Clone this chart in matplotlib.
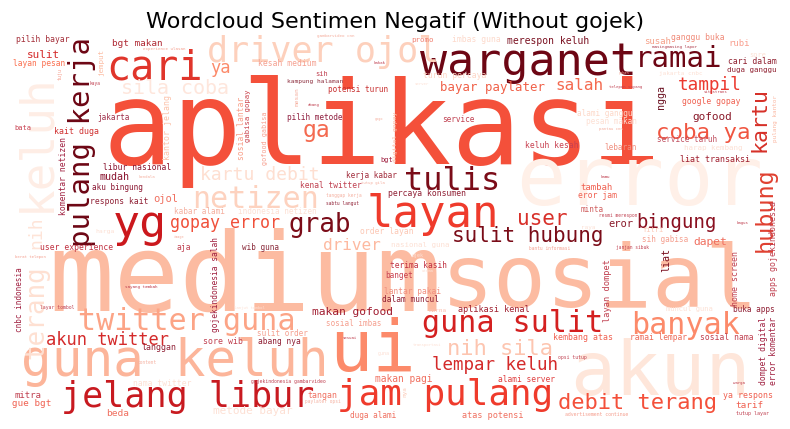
import matplotlib
matplotlib.use("Agg")
import matplotlib.pyplot as plt

# ---- word cloud content -------------------------------------------------
words = [
    "aplikasi", "medium", "sosial", "error", "akun", "keluh", "warganet", "yg", "layan", "ui",
    "jam pulang", "jelang libur", "guna keluh", "twitter guna", "akun twitter", "guna sulit", "banyak", "nih sila", "lempar keluh", "debit terang",
    "pulang kerja", "cari", "driver ojol", "ramai", "tulis", "grab", "kartu debit", "netizen", "gopay error", "ga",
    "sila coba", "sulit hubung", "user", "bingung", "hubung", "kartu", "coba ya", "tampil", "salah", "driver",
    "terang", "nih", "ya", "bayar paylater", "makan gofood", "gofood", "dapet", "sulit", "ojol", "eror",
    "mudah", "ngga", "liat", "merespon keluh", "makan pagi", "bgt makan", "pilih bayar", "layan pesan", "jemput", "experience ulasan",
    "tuju", "kaya", "jakarta", "kantor jelang", "sosial lantar", "gabisa gopay", "gofood gabisa", "bata", "kait duga", "komentar netizen",
    "libur nasional", "gambarvideo cnn", "promo", "imbas guna", "kesah medium", "sih", "kampung halaman", "turun percaya", "mesan", "potensi turun",
    "abang", "pilih metode", "digital gopay", "service", "bgt", "susah", "ganggu buka", "rubi", "masingmasing lapor", "sore",
    "cari dalam", "duga ganggu", "jakarta cnbc", "telepon sayang", "pulang kantor", "google gopay", "alami ganggu", "pesan makan", "keluh kesah", "lebaran",
    "service taruh", "harap kembang", "liat transaksi", "tambah", "eror jam", "kamu", "minta", "resmi merespon", "raya", "fitri",
    "sih gabisa", "janjan sibuk", "bantu informasi", "bagus", "aku bingung", "respons kait", "kendala", "kabar alami", "indonesia netizen", "harga",
    "user experience", "aja", "image", "wib guna", "gojekindonesia salah", "berat telepon", "sayang tambah", "kerja kabar", "kenal twitter", "tutup gila",
    "percaya konsumen", "tanggap kerja", "sabtu langut", "order layan", "nasional guna", "ojek", "terima kasih", "banget", "lantar pakai", "dalam muncul",
    "marna", "aplikasi kenal", "sosial imbas", "sulit order", "abang nya", "sore wib", "langgan", "content", "alami server", "tangan",
    "nya", "duga alami", "atas potensi", "cnbc indonesia", "layar tombol", "lanjut tombol", "mitra", "gue bgt", "beda", "nama twitter",
    "metode bayar", "gojekindonesia gambarvideo", "paylater opsi", "layan dompet", "home screen", "apps gojekindonesia", "muncul guna", "buka apps", "kembang atas", "ramai lempar",
    "sosial nama", "dompet digital", "error komentar", "opsi tutup", "warga", "ya respons", "tarif", "tutup layar", "advertisement continue", "sesuai",
    "transportasi", "guna", "server", "kakak", "pahan", "situstrans", "pantau cnn", "gogo", "utama",
]

# relative word size (font em height in image pixels)
sizes = [
    116, 109, 88, 82, 75, 46, 45, 45, 44, 72,
    36, 35, 51, 30, 17, 30, 30, 22, 17.5, 22,
    29, 40, 35, 29, 32, 26, 18, 30, 16.6, 23,
    20, 21, 21, 19, 23.5, 21.6, 22.5, 17.7, 16, 16,
    26, 18, 17, 12.4, 11.2, 11, 11.2, 11, 10.4, 10.4,
    10, 10, 10, 9.8, 9.6, 9.4, 8, 7.9, 7.5, 4.1,
    5, 4.5, 7.8, 8.3, 8, 7.3, 6.8, 7, 8.3, 8.1,
    8, 4.2, 7.5, 8, 8, 7, 6.2, 8.2, 6.3, 7.7,
    4, 7.8, 6.5, 7.8, 7, 9, 8, 9, 4.2, 7,
    8.2, 7.5, 6, 4, 6, 8, 7.8, 7.8, 8, 7.8,
    7.7, 7.5, 8.4, 9, 8, 4, 7.6, 4.5, 6, 7,
    7.7, 4.6, 4.5, 4, 7.7, 8, 4, 7.8, 7.8, 6.5,
    8, 8, 3.5, 7.7, 7.9, 4, 4.3, 7.8, 7.9, 4,
    8.2, 4.5, 4.5, 8, 7.5, 5, 7.9, 7.8, 7.9, 7.9,
    6, 8.5, 7.6, 7.7, 7.9, 8.3, 8.3, 4.5, 7.9, 8.3,
    6, 7.8, 8.5, 7.7, 4.8, 4, 9, 9.3, 9.5, 8,
    11, 4.7, 4.5, 8.6, 8.3, 8.3, 7.2, 7.8, 8.3, 7.9,
    8, 8, 8, 4.7, 4, 8.3, 9.3, 5, 4.9, 4,
    4, 5, 4, 4, 3.5, 4, 4, 3.5, 4,
]

colors = [
    "#f4503a", "#fcbba1", "#fcbba1", "#fff0e8", "#fee6da", "#feede5", "#6d0614", "#cb181d", "#ef3b2c", "#fc8a6a",
    "#ef3b2c", "#c81a20", "#fcb59a", "#fca486", "#d42a2a", "#d42020", "#fc8a6a", "#fdc5b0", "#d42a2a", "#f4503a",
    "#6d0614", "#e0352b", "#fdd0bc", "#6d0614", "#7b0c18", "#7b0c18", "#fedfd1", "#fdd2bf", "#f0503a", "#f46a50",
    "#fee6dc", "#7a0c18", "#d8302a", "#8a1020", "#e04030", "#d63028", "#f05540", "#ec3a30", "#f46a50", "#fdb9a0",
    "#fee0d2", "#fee4d8", "#fc8a6a", "#f06048", "#a01c30", "#8a1a2a", "#f07060", "#d42a2a", "#f07060", "#8a1a2a",
    "#8a1530", "#6a1020", "#7a1020", "#7a1020", "#f07060", "#b02a35", "#a5303a", "#fb7050", "#fcbba1", "#f5a090",
    "#f5a090", "#c04050", "#a0304a", "#fcc2aa", "#f9a08a", "#c9404a", "#f7a090", "#c84050", "#d03030", "#a02040",
    "#8a1530", "#f5b0a0", "#f08070", "#fdd9cb", "#f5a090", "#c04050", "#8a2a3a", "#fdd5c5", "#f5b0a0", "#c83030",
    "#c04050", "#902040", "#fbb8a2", "#c04050", "#a02040", "#f5a088", "#f08a78", "#f9a090", "#b04050", "#fde0d4",
    "#902030", "#902030", "#fde0d4", "#c04050", "#fbb8a2", "#f06050", "#fdd8c8", "#fde0d4", "#c84050", "#f09080",
    "#c05060", "#fde0d4", "#a02030", "#f06050", "#f06050", "#c04050", "#d06060", "#c04050", "#fde0d4", "#fcc8b5",
    "#f5a090", "#c04050", "#f5a090", "#c04050", "#8a1530", "#902035", "#f5b0a0", "#f5b0a0", "#fde0d4", "#fde0d4",
    "#c03040", "#c04050", "#f5b0a0", "#8a2a3a", "#a02040", "#f5a090", "#c04050", "#a02a3a", "#c04050", "#f5b0a0",
    "#902035", "#f5b0a0", "#902035", "#fcc8b5", "#fde0d4", "#fde0d4", "#c03040", "#c84050", "#f09080", "#902035",
    "#fbc0b0", "#a02030", "#f5a090", "#f5a090", "#902035", "#c04050", "#902035", "#f5b0a0", "#e04040", "#f07060",
    "#fcc8b5", "#f07060", "#f07060", "#a02040", "#c04050", "#fde0d4", "#c04050", "#f06050", "#f07060", "#fde0d4",
    "#fde0d4", "#c04050", "#f5b0a0", "#c04050", "#c04050", "#c04050", "#fde0d4", "#902035", "#f06050", "#ec6a58",
    "#c04050", "#a02040", "#a02040", "#c04050", "#c04050", "#f06050", "#f06050", "#c04050", "#f5a090", "#c04050",
    "#fde0d4", "#fde0d4", "#fde0d4", "#c04050", "#f5b0a0", "#c04050", "#f5b0a0", "#f5b0a0", "#fde0d4",
]

# 1 = word drawn vertically (reads bottom to top)
vertical = [
    0, 0, 0, 0, 0, 1, 0, 0, 0, 0,
    0, 0, 0, 0, 0, 0, 0, 0, 0, 0,
    1, 0, 0, 0, 0, 0, 0, 0, 0, 0,
    0, 0, 0, 0, 1, 1, 0, 0, 0, 0,
    1, 1, 0, 0, 0, 0, 0, 0, 0, 0,
    0, 1, 1, 0, 0, 0, 0, 0, 1, 0,
    1, 0, 0, 1, 1, 1, 1, 0, 0, 1,
    0, 0, 0, 0, 0, 0, 0, 0, 1, 0,
    0, 0, 1, 0, 0, 0, 0, 0, 0, 0,
    0, 0, 0, 0, 1, 0, 0, 0, 0, 0,
    0, 0, 0, 0, 0, 0, 0, 0, 0, 0,
    0, 0, 0, 0, 0, 0, 0, 0, 0, 0,
    0, 0, 0, 0, 1, 0, 0, 0, 0, 0,
    0, 0, 0, 0, 0, 0, 0, 0, 0, 0,
    0, 0, 0, 0, 0, 0, 0, 0, 0, 0,
    1, 0, 0, 1, 0, 0, 0, 0, 0, 0,
    0, 0, 0, 1, 1, 1, 0, 0, 0, 0,
    0, 1, 1, 0, 0, 0, 0, 0, 0, 0,
    0, 0, 0, 0, 0, 0, 0, 0, 0,
]

# word-cloud layout: centre of each word on the 770x385 canvas (pixel units)
layout_x = [
    382, 245, 600, 640, 660, 37, 528, 140, 433, 372,
    445, 188, 175, 187, 108, 513, 685, 500, 495, 638,
    82, 155, 323, 679, 452, 320, 260, 256, 225, 316,
    175, 528, 542, 677, 765, 760, 703, 710, 579, 352,
    36, 36, 220, 492, 352, 712, 710, 43, 166, 621,
    115, 661, 666, 548, 404, 137, 43, 39, 101, 164,
    60, 95, 113, 167, 241, 248, 265, 23, 77, 64,
    137, 336, 423, 476, 287, 322, 315, 455, 297, 358,
    314, 315, 395, 458, 387, 657, 698, 739, 675, 758,
    752, 752, 681, 626, 775, 711, 605, 611, 552, 621,
    687, 713, 715, 597, 598, 605, 592, 618, 588, 653,
    665, 633, 550, 743, 117, 119, 147, 199, 277, 105,
    77, 184, 179, 261, 215, 30, 141, 371, 331, 373,
    427, 344, 343, 387, 420, 418, 418, 399, 413, 411,
    438, 494, 354, 282, 279, 223, 159, 147, 527, 322,
    405, 373, 493, 19, 57, 249, 28, 32, 118, 162,
    253, 288, 323, 608, 736, 773, 689, 754, 583, 658,
    727, 763, 773, 572, 739, 748, 749, 752, 597, 350,
    427, 384, 422, 379, 624, 715, 611, 379, 428,
]
layout_y = [
    132, 281, 282, 182, 374, 143, 62, 225, 215, 352,
    395, 397, 362, 322, 340, 323, 325, 349, 365, 403,
    142, 68, 52, 59, 181, 225, 175, 200, 223, 131,
    88, 236, 219, 222, 210, 120, 133, 85, 85, 246,
    312, 233, 68, 88, 312, 117, 242, 55, 199, 224,
    177, 97, 260, 41, 379, 44, 39, 64, 62, 49,
    74, 83, 118, 127, 128, 116, 138, 128, 131, 176,
    167, 36, 40, 39, 64, 74, 81, 75, 97, 90,
    105, 118, 137, 119, 160, 42, 38, 43, 47, 55,
    62, 70, 73, 87, 118, 101, 113, 121, 146, 147,
    140, 148, 160, 188, 196, 177, 209, 215, 227, 230,
    240, 248, 249, 223, 187, 201, 177, 212, 212, 231,
    248, 248, 237, 248, 285, 257, 287, 176, 185, 183,
    194, 195, 203, 232, 245, 256, 265, 275, 291, 300,
    310, 310, 324, 333, 341, 342, 348, 363, 380, 395,
    392, 415, 415, 300, 307, 308, 395, 404, 413, 383,
    411, 382, 402, 291, 278, 248, 309, 310, 337, 338,
    338, 351, 351, 358, 383, 395, 406, 413, 414, 338,
    345, 354, 84, 63, 73, 92, 129, 119, 271,
]

assert len(words) == len(sizes) == len(colors) == len(vertical) == len(layout_x) == len(layout_y)

# ---- figure -------------------------------------------------------------
W, H = 790, 429
fig = plt.figure(figsize=(W / 100, H / 100), dpi=100)
x0, x1, y0, y1 = 10, 780, 36, 421
ax = fig.add_axes([x0 / W, (H - y1) / H, (x1 - x0) / W, (y1 - y0) / H])
ax.set_xlim(x0, x1)
ax.set_ylim(y1, y0)
ax.axis("off")
ax.set_title("Wordcloud Sentimen Negatif (Without gojek)", fontsize=16)

PX_TO_PT = 72 / 100
for w, s, c, v, x, y in zip(words, sizes, colors, vertical, layout_x, layout_y):
    ax.text(x, y, w, fontsize=s * PX_TO_PT, color=c, family="DejaVu Sans Mono",
            rotation=90 if v else 0, ha="center", va="center")

fig.savefig("out.png", dpi=100, facecolor="white")
